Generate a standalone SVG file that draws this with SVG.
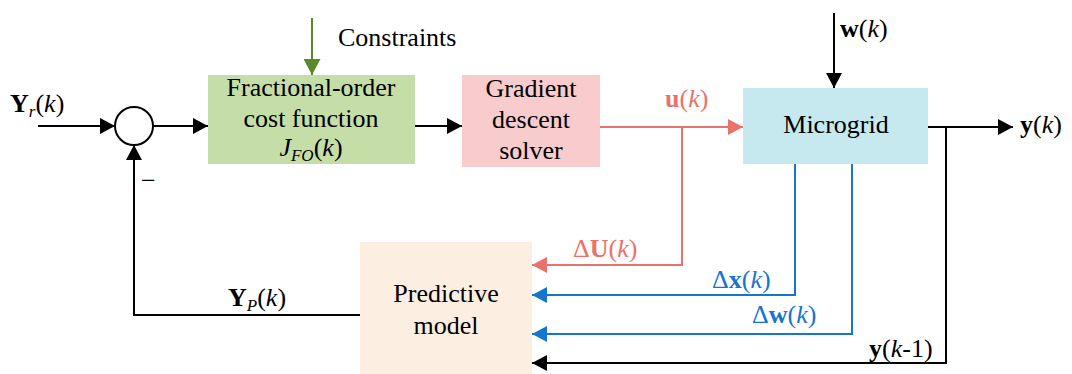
<svg xmlns="http://www.w3.org/2000/svg" width="1072" height="374" viewBox="0 0 1072 374">
<style>
text{font-family:"Liberation Serif","Times New Roman",serif;font-size:26px;fill:#000}
.c{text-anchor:middle}
.b{font-weight:bold}
.i{font-style:italic}
.sub{font-size:17px;font-style:italic}
.ln{fill:none;stroke-width:2}
.k{stroke:#000}
.r{stroke:#E8736A}
.u{stroke:#1675CF}
.g{stroke:#5A8A2B}
.tr{fill:#E8736A}
.tu{fill:#1675CF}
</style>
<defs>
<marker id="ak" markerUnits="userSpaceOnUse" markerWidth="15" markerHeight="16" refX="15" refY="8" orient="auto"><path d="M0,0 L15,8 L0,16 Z" fill="#000"/></marker>
<marker id="ar" markerUnits="userSpaceOnUse" markerWidth="15" markerHeight="16" refX="15" refY="8" orient="auto"><path d="M0,0 L15,8 L0,16 Z" fill="#E8736A"/></marker>
<marker id="au" markerUnits="userSpaceOnUse" markerWidth="15" markerHeight="16" refX="15" refY="8" orient="auto"><path d="M0,0 L15,8 L0,16 Z" fill="#1675CF"/></marker>
<marker id="ag" markerUnits="userSpaceOnUse" markerWidth="16" markerHeight="17" refX="16" refY="8.5" orient="auto"><path d="M0,0 L16,8.5 L0,17 Z" fill="#5A8A2B"/></marker>
</defs>

<g id="sum">
<circle cx="134" cy="126" r="19" fill="#fff" stroke="#000" stroke-width="2"/>
</g>

<g id="cost">
<rect x="208" y="75" width="207" height="89" fill="#C5DEA8"/>
<text class="c" x="311" y="96">Fractional-order</text>
<text class="c" x="311" y="127">cost function</text>
<text class="c" x="311" y="156"><tspan class="i">J</tspan><tspan class="sub" dy="5">FO</tspan><tspan dy="-5">(</tspan><tspan class="i">k</tspan>)</text>
</g>

<g id="solver">
<rect x="462" y="75" width="138" height="92" fill="#F8CCCC"/>
<text class="c" x="531" y="97">Gradient</text>
<text class="c" x="531" y="128">descent</text>
<text class="c" x="531" y="159">solver</text>
</g>

<g id="microgrid">
<rect x="743" y="88" width="185" height="76" fill="#C6E9F0"/>
<text class="c" x="836" y="133">Microgrid</text>
</g>

<g id="predictive">
<rect x="360" y="242" width="172" height="132" fill="#FDEEE2"/>
<text class="c" x="446" y="302">Predictive</text>
<text class="c" x="446" y="334">model</text>
</g>

<g id="connectors">
<path class="ln k" d="M38,126 H115" marker-end="url(#ak)"/>
<path class="ln k" d="M153,126 H208" marker-end="url(#ak)"/>
<path class="ln k" d="M415,126 H462" marker-end="url(#ak)"/>
<path class="ln k" d="M360,315 H134 V145" marker-end="url(#ak)"/>
<path class="ln g" d="M312,18 V75" marker-end="url(#ag)"/>
<path class="ln r" d="M600,127 H743" marker-end="url(#ar)"/>
<path class="ln r" d="M682,127 V265 H532" marker-end="url(#ar)"/>
<path class="ln k" d="M834,13 V88" marker-end="url(#ak)"/>
<path class="ln k" d="M928,127 H1013" marker-end="url(#ak)"/>
<path class="ln k" d="M946,127 V363 H532" marker-end="url(#ak)"/>
<path class="ln u" d="M795,164 V295 H532" marker-end="url(#au)"/>
<path class="ln u" d="M852,164 V334 H532" marker-end="url(#au)"/>
</g>

<g id="labels">
<text x="10" y="112"><tspan class="b">Y</tspan><tspan class="sub" dy="5">r</tspan><tspan dy="-5">(</tspan><tspan class="i">k</tspan>)</text>
<text x="141" y="189">−</text>
<text x="228" y="306"><tspan class="b">Y</tspan><tspan class="sub" dy="5">P</tspan><tspan dy="-5">(</tspan><tspan class="i">k</tspan>)</text>
<text x="338" y="46">Constraints</text>
<text class="tr" x="665" y="107"><tspan class="b">u</tspan>(<tspan class="i">k</tspan>)</text>
<text x="840" y="37"><tspan class="b">w</tspan>(<tspan class="i">k</tspan>)</text>
<text x="1020" y="133"><tspan class="b">y</tspan>(<tspan class="i">k</tspan>)</text>
<text class="tr" x="573" y="257">Δ<tspan class="b">U</tspan>(<tspan class="i">k</tspan>)</text>
<text class="tu" x="712" y="288">Δ<tspan class="b">x</tspan>(<tspan class="i">k</tspan>)</text>
<text class="tu" x="752" y="323">Δ<tspan class="b">w</tspan>(<tspan class="i">k</tspan>)</text>
<text x="869" y="357"><tspan class="b">y</tspan>(<tspan class="i">k</tspan>-1)</text>
</g>
</svg>
